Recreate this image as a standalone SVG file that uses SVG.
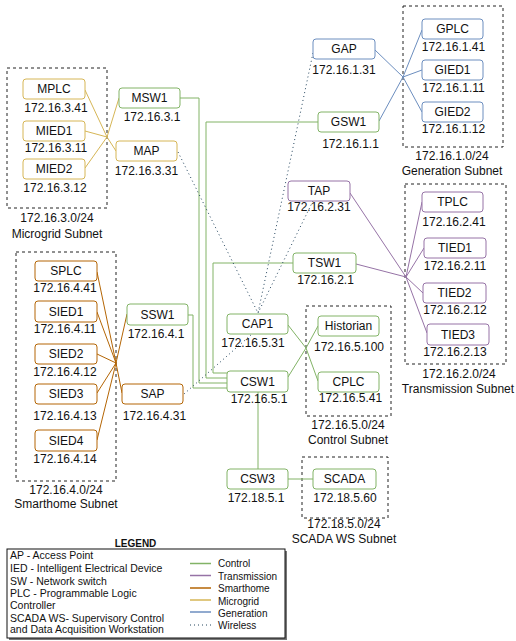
<svg xmlns="http://www.w3.org/2000/svg" width="516" height="641" viewBox="0 0 516 641">
  <style>
    text { font-family: "Liberation Sans", Arial, Helvetica, sans-serif; fill: #111; }
    .t { font-size: 12px; text-anchor: middle; }
    .box { fill: #fff; stroke-width: 1; }
    .g { stroke: #82b366; }
    .p { stroke: #9673a6; }
    .o { stroke: #b46504; }
    .y { stroke: #d6b656; }
    .b { stroke: #6c8ebf; }
    .sub { fill: none; stroke: #222; stroke-width: 1; stroke-dasharray: 3 3; }
    .ln { fill: none; stroke-width: 1; }
    .w { fill: none; stroke: #23445d; stroke-width: 1; stroke-dasharray: 1 3; }
    .lg { font-size: 10.5px; }
    .lr { font-size: 10px; }
  </style>

  <!-- subnet frames -->
  <g id="subnets">
    <rect class="sub" x="7" y="68" width="100" height="140"/>
    <text class="t" x="57" y="222">172.16.3.0/24</text>
    <text class="t" x="57" y="238">Microgrid Subnet</text>

    <rect class="sub" x="403" y="6" width="100" height="141"/>
    <text class="t" x="452" y="160">172.16.1.0/24</text>
    <text class="t" x="452" y="175">Generation Subnet</text>

    <rect class="sub" x="405" y="184" width="101" height="180"/>
    <text class="t" x="459" y="378">172.16.2.0/24</text>
    <text class="t" x="458" y="393">Transmission Subnet</text>

    <rect class="sub" x="16" y="252" width="100" height="229"/>
    <text class="t" x="66" y="494">172.16.4.0/24</text>
    <text class="t" x="66" y="508">Smarthome Subnet</text>

    <rect class="sub" x="306" y="306" width="85" height="110"/>
    <text class="t" x="348" y="429">172.16.5.0/24</text>
    <text class="t" x="348" y="444">Control Subnet</text>

    <rect class="sub" x="302" y="457" width="86" height="61"/>
    <text class="t" x="344" y="528">172.18.5.0/24</text>
    <text class="t" x="344" y="543">SCADA WS Subnet</text>
  </g>

  <!-- connectors -->
  <g id="connectors">
    <!-- control backbone -->
    <polyline class="ln g" points="180,98 199,98 199,383 227,383"/>
    <polyline class="ln g" points="318,122 206,122 206,378 227,378"/>
    <polyline class="ln g" points="293,263 213,263 213,373 227,373"/>
    <polyline class="ln g" points="188,315 193,315 193,388 227,388"/>
    <polyline class="ln g" points="288,325 306,348 318,326"/>
    <polyline class="ln g" points="288,377 306,348 318,381"/>
    <line class="ln g" x1="258" y1="392" x2="258" y2="469"/>
    <line class="ln g" x1="288" y1="479" x2="313" y2="479"/>

    <!-- microgrid -->
    <polyline class="ln y" points="85,90 107,137 119,98"/>
    <polyline class="ln y" points="85,131 107,137 116,151"/>
    <line class="ln y" x1="85" y1="168" x2="107" y2="137"/>

    <!-- generation -->
    <polyline class="ln b" points="375,50 403,77 422,30"/>
    <polyline class="ln b" points="379,121 403,77 422,70"/>
    <line class="ln b" x1="403" y1="77" x2="422" y2="112"/>

    <!-- transmission -->
    <polyline class="ln p" points="350,193 406,277 422,202"/>
    <polyline class="ln p" points="356,264 406,277 424,248"/>
    <line class="ln p" x1="406" y1="277" x2="423" y2="293"/>
    <line class="ln p" x1="406" y1="277" x2="427" y2="333"/>

    <!-- smarthome -->
    <polyline class="ln o" points="97,272 116,363 127,314"/>
    <polyline class="ln o" points="97,312 116,363 122,393"/>
    <line class="ln o" x1="97" y1="354" x2="116" y2="363"/>
    <line class="ln o" x1="97" y1="393" x2="116" y2="363"/>
    <line class="ln o" x1="97" y1="440" x2="116" y2="363"/>

    <!-- wireless -->
    <line class="w" x1="178" y1="152" x2="258" y2="313"/>
    <line class="w" x1="313" y1="53" x2="258" y2="313"/>
    <line class="w" x1="313" y1="201" x2="258" y2="313"/>
    <line class="w" x1="184" y1="394" x2="252" y2="334"/>
  </g>

  <!-- microgrid nodes -->
  <g id="MPLC"><rect class="box y" x="23" y="79" width="62" height="20" rx="3"/><text class="t" x="54" y="93">MPLC</text><text class="t" x="56" y="112">172.16.3.41</text></g>
  <g id="MIED1"><rect class="box y" x="23" y="121" width="62" height="20" rx="3"/><text class="t" x="54" y="135">MIED1</text><text class="t" x="56" y="152">172.16.3.11</text></g>
  <g id="MIED2"><rect class="box y" x="23" y="159" width="62" height="20" rx="3"/><text class="t" x="54" y="173">MIED2</text><text class="t" x="55" y="192">172.16.3.12</text></g>
  <g id="MSW1"><rect class="box g" x="119" y="88" width="61" height="20" rx="3"/><text class="t" x="149.5" y="102">MSW1</text><text class="t" x="152" y="121">172.16.3.1</text></g>
  <g id="MAP"><rect class="box y" x="116" y="141" width="61" height="20" rx="3"/><text class="t" x="146.5" y="155">MAP</text><text class="t" x="146.5" y="175">172.16.3.31</text></g>

  <!-- generation nodes -->
  <g id="GAP"><rect class="box b" x="313" y="39" width="62" height="20" rx="3"/><text class="t" x="344" y="53">GAP</text><text class="t" x="344" y="74">172.16.1.31</text></g>
  <g id="GSW1"><rect class="box g" x="318" y="112" width="61" height="20" rx="3"/><text class="t" x="348.5" y="126">GSW1</text><text class="t" x="350.5" y="148">172.16.1.1</text></g>
  <g id="GPLC"><rect class="box b" x="422" y="19" width="61" height="20" rx="3"/><text class="t" x="452.5" y="33">GPLC</text><text class="t" x="453.5" y="51">172.16.1.41</text></g>
  <g id="GIED1"><rect class="box b" x="422" y="60" width="61" height="20" rx="3"/><text class="t" x="452.5" y="74">GIED1</text><text class="t" x="453.5" y="92">172.16.1.11</text></g>
  <g id="GIED2"><rect class="box b" x="422" y="102" width="61" height="20" rx="3"/><text class="t" x="452.5" y="116">GIED2</text><text class="t" x="453.5" y="133">172.16.1.12</text></g>

  <!-- transmission nodes -->
  <g id="TAP"><rect class="box p" x="288" y="181" width="62" height="20" rx="3"/><text class="t" x="319" y="195">TAP</text><text class="t" x="319" y="211">172.16.2.31</text></g>
  <g id="TSW1"><rect class="box g" x="293" y="253" width="63" height="20" rx="3"/><text class="t" x="324.5" y="267">TSW1</text><text class="t" x="325.5" y="284">172.16.2.1</text></g>
  <g id="TPLC"><rect class="box p" x="422" y="192" width="61" height="20" rx="3"/><text class="t" x="452.5" y="206">TPLC</text><text class="t" x="454" y="226">172.16.2.41</text></g>
  <g id="TIED1"><rect class="box p" x="424" y="238" width="62" height="20" rx="3"/><text class="t" x="455" y="252">TIED1</text><text class="t" x="455" y="270">172.16.2.11</text></g>
  <g id="TIED2"><rect class="box p" x="423" y="283" width="63" height="20" rx="3"/><text class="t" x="454.5" y="297">TIED2</text><text class="t" x="455" y="314">172.16.2.12</text></g>
  <g id="TIED3"><rect class="box p" x="427" y="324" width="62" height="21" rx="3"/><text class="t" x="458" y="339">TIED3</text><text class="t" x="455" y="356">172.16.2.13</text></g>

  <!-- smarthome nodes -->
  <g id="SPLC"><rect class="box o" x="35" y="261" width="62" height="20" rx="3"/><text class="t" x="66" y="275">SPLC</text><text class="t" x="65" y="292">172.16.4.41</text></g>
  <g id="SIED1"><rect class="box o" x="35" y="301" width="62" height="21" rx="3"/><text class="t" x="66" y="316">SIED1</text><text class="t" x="65" y="333">172.16.4.11</text></g>
  <g id="SIED2"><rect class="box o" x="35" y="344" width="62" height="20" rx="3"/><text class="t" x="66" y="358">SIED2</text><text class="t" x="65" y="376">172.16.4.12</text></g>
  <g id="SIED3"><rect class="box o" x="35" y="384" width="62" height="20" rx="3"/><text class="t" x="66" y="398">SIED3</text><text class="t" x="65" y="420">172.16.4.13</text></g>
  <g id="SIED4"><rect class="box o" x="35" y="430" width="62" height="21" rx="3"/><text class="t" x="66" y="445">SIED4</text><text class="t" x="65" y="463">172.16.4.14</text></g>
  <g id="SSW1"><rect class="box g" x="127" y="304" width="61" height="21" rx="3"/><text class="t" x="157.5" y="319">SSW1</text><text class="t" x="156" y="338">172.16.4.1</text></g>
  <g id="SAP"><rect class="box o" x="122" y="384" width="61" height="20" rx="3"/><text class="t" x="152.5" y="398">SAP</text><text class="t" x="154.5" y="420">172.16.4.31</text></g>

  <!-- control nodes -->
  <g id="CAP1"><rect class="box g" x="227" y="314" width="61" height="20" rx="3"/><text class="t" x="257.5" y="328">CAP1</text><text class="t" x="253" y="347">172.16.5.31</text></g>
  <g id="CSW1"><rect class="box g" x="227" y="371" width="61" height="21" rx="3"/><text class="t" x="257.5" y="386">CSW1</text><text class="t" x="259" y="403">172.16.5.1</text></g>
  <g id="Historian"><rect class="box g" x="318" y="316" width="61" height="20" rx="3"/><text class="t" x="348.5" y="330">Historian</text><text class="t" x="349" y="351">172.16.5.100</text></g>
  <g id="CPLC"><rect class="box g" x="318" y="372" width="61" height="20" rx="3"/><text class="t" x="348.5" y="386">CPLC</text><text class="t" x="350.5" y="402">172.16.5.41</text></g>
  <g id="CSW3"><rect class="box g" x="227" y="469" width="61" height="20" rx="3"/><text class="t" x="257.5" y="483">CSW3</text><text class="t" x="256" y="502">172.18.5.1</text></g>
  <g id="SCADA"><rect class="box g" x="313" y="469" width="63" height="20" rx="3"/><text class="t" x="344.5" y="483">SCADA</text><text class="t" x="345" y="502">172.18.5.60</text></g>

  <!-- legend -->
  <g id="legend">
    <text x="135.5" y="547" font-size="10" font-weight="bold" text-anchor="middle">LEGEND</text>
    <rect x="9" y="551" width="278" height="89" fill="#777"/>
    <rect x="7" y="549" width="278" height="89" fill="#fff" stroke="#111" stroke-width="1"/>
    <text class="lg" x="10" y="559">AP - Access Point</text>
    <text class="lg" x="10" y="572">IED - Intelligent Electrical Device</text>
    <text class="lg" x="10" y="585">SW - Network switch</text>
    <text class="lg" x="10" y="597">PLC - Programmable Logic</text>
    <text class="lg" x="10" y="609">Controller</text>
    <text class="lg" x="10" y="622">SCADA WS- Supervisory Control</text>
    <text class="lg" x="10" y="633">and Data Acquisition Workstation</text>

    <line class="g" x1="190" y1="563.5" x2="211" y2="563.5" stroke-width="1.5"/>
    <line class="p" x1="190" y1="575.5" x2="211" y2="575.5" stroke-width="1.5"/>
    <line class="o" x1="190" y1="588" x2="211" y2="588" stroke-width="1.5"/>
    <line class="y" x1="190" y1="600" x2="211" y2="600" stroke-width="1.5"/>
    <line class="b" x1="190" y1="612" x2="211" y2="612" stroke-width="1.5"/>
    <line class="w" x1="190" y1="625" x2="211" y2="625"/>
    <text class="lr" x="218" y="567">Control</text>
    <text class="lr" x="218" y="580">Transmission</text>
    <text class="lr" x="218" y="592">Smarthome</text>
    <text class="lr" x="218" y="605">Microgrid</text>
    <text class="lr" x="218" y="617">Generation</text>
    <text class="lr" x="218" y="629">Wireless</text>
  </g>
</svg>
